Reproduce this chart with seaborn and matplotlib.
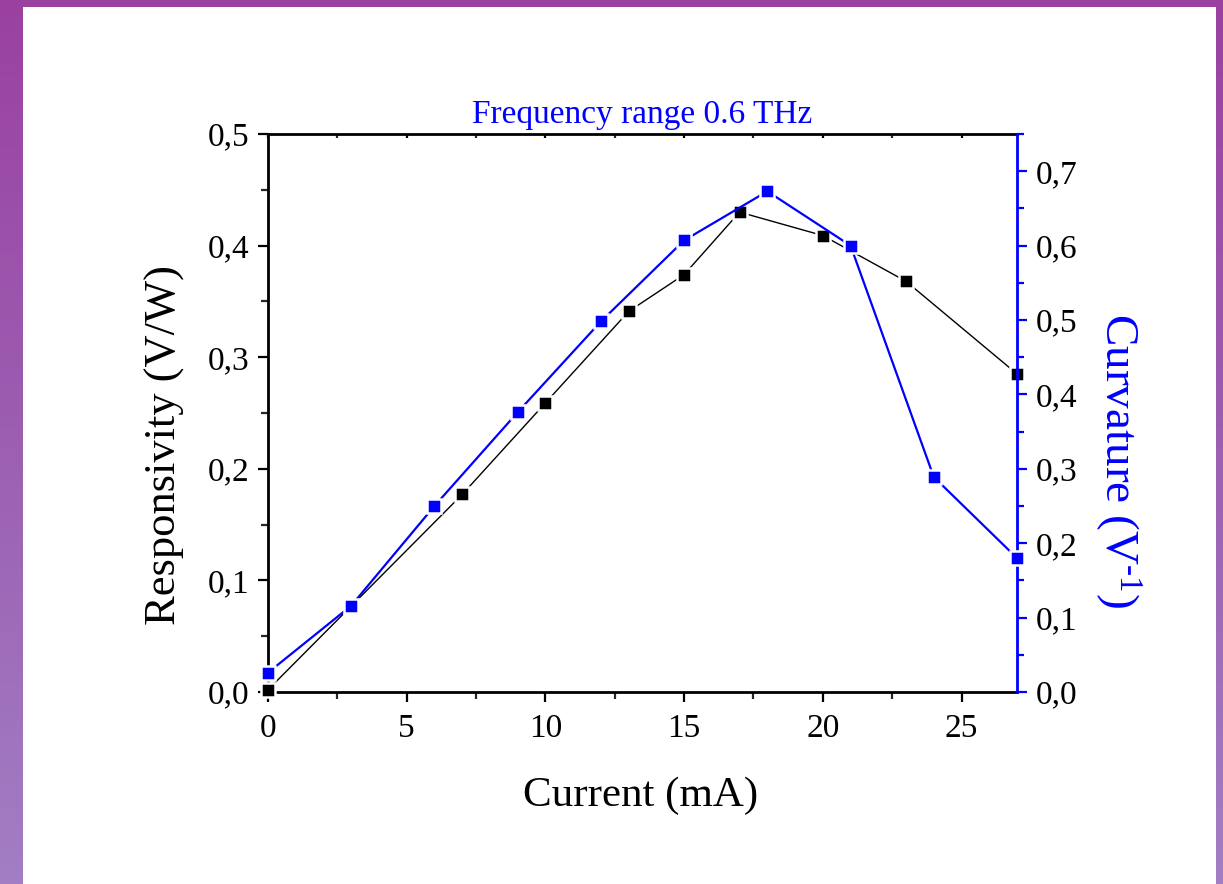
import numpy as np
import pandas as pd
import matplotlib
matplotlib.use("Agg")
import matplotlib.pyplot as plt
from matplotlib.patches import Rectangle
from matplotlib.ticker import MultipleLocator
from matplotlib.colors import LinearSegmentedColormap
import seaborn as sns

# ---- data ----
resp_current = [0, 3, 7, 10, 13, 15, 17, 20, 23, 27]
responsivity = [0.002, 0.077, 0.177, 0.259, 0.341, 0.374, 0.430, 0.409, 0.368, 0.285]
curv_current = [0, 3, 6, 9, 12, 15, 18, 21, 24, 27]
curvature = [0.026, 0.116, 0.250, 0.376, 0.498, 0.607, 0.673, 0.600, 0.289, 0.180]

x_ticks = [0, 5, 10, 15, 20, 25]
x_labels = ["0", "5", "10", "15", "20", "25"]
yl_ticks = [0.0, 0.1, 0.2, 0.3, 0.4, 0.5]
yl_labels = ["0,0", "0,1", "0,2", "0,3", "0,4", "0,5"]
yr_ticks = [0.0, 0.1, 0.2, 0.3, 0.4, 0.5, 0.6, 0.7]
yr_labels = ["0,0", "0,1", "0,2", "0,3", "0,4", "0,5", "0,6", "0,7"]

title = "Frequency range 0.6 THz"
xlabel = "Current (mA)"
ylabel_left = "Responsivity (V/W)"
ylabel_right = r"Curvature (V$^{\text{-1}}$)"

sns.set_theme(style="white")
plt.rcParams["font.family"] = ["Liberation Serif", "DejaVu Serif"]
plt.rcParams["mathtext.fontset"] = "custom"
plt.rcParams["mathtext.rm"] = "Liberation Serif"
plt.rcParams["mathtext.it"] = "Liberation Serif:italic"

W, H = 1223, 884
fig = plt.figure(figsize=(W / 100, H / 100), dpi=100)

# background purple gradient frame + white panel
bg = fig.add_axes([0, 0, 1, 1], zorder=-10)
grad = np.linspace(0, 1, 256).reshape(-1, 1)
cmap = LinearSegmentedColormap.from_list("pp", ["#9a41a0", "#9c5fb2", "#a27ec4"])
bg.imshow(grad, extent=[0, 1, 0, 1], aspect="auto", cmap=cmap, origin="upper")
bg.set_xlim(0, 1)
bg.set_ylim(0, 1)
bg.add_patch(Rectangle((23 / W, 0), (1216 - 23) / W, 1 - 7 / H, facecolor="white",
                       edgecolor="none", transform=bg.transAxes))
bg.axis("off")

ax = fig.add_axes([268 / W, 1 - 692 / H, (1017 - 268) / W, (692 - 134) / H])
ax.set_facecolor("none")
ax2 = ax.twinx()

df1 = pd.DataFrame({"x": resp_current, "y": responsivity})
df2 = pd.DataFrame({"x": curv_current, "y": curvature})

sns.lineplot(data=df1, x="x", y="y", ax=ax, color="black", linewidth=1.0,
             marker="s", markersize=10, markeredgecolor="white", markeredgewidth=1.8,
             zorder=3, clip_on=False)
sns.lineplot(data=df2, x="x", y="y", ax=ax2, color="#0000ff", linewidth=1.6,
             marker="s", markersize=10, markeredgecolor="white", markeredgewidth=1.8,
             zorder=3, clip_on=False)

ax.set_xlim(0, 27)
ax.set_ylim(0, 0.5)
ax2.set_ylim(0, 0.75)

ax.set_xticks(x_ticks)
ax.set_xticklabels(x_labels)
ax.set_yticks(yl_ticks)
ax.set_yticklabels(yl_labels)
ax2.set_yticks(yr_ticks)
ax2.set_yticklabels(yr_labels)
ax.xaxis.set_minor_locator(MultipleLocator(2.5))
ax.yaxis.set_minor_locator(MultipleLocator(0.05))
ax2.yaxis.set_minor_locator(MultipleLocator(0.05))

for s in ["left", "bottom", "top"]:
    ax.spines[s].set_visible(True)
    ax.spines[s].set_color("black")
    ax.spines[s].set_linewidth(2.0)
ax.spines["right"].set_visible(False)
for s in ["left", "bottom", "top"]:
    ax2.spines[s].set_visible(False)
ax2.spines["right"].set_visible(True)
ax2.spines["right"].set_color("#0000ff")
ax2.spines["right"].set_linewidth(2.0)

ax.tick_params(axis="both", which="major", direction="out", length=7.5, width=1.6,
               labelsize=24, colors="black", pad=6, bottom=True, left=True)
ax.tick_params(axis="x", which="major", pad=8)
ax.tick_params(axis="both", which="minor", direction="out", length=5, width=1.6,
               bottom=True, left=True)
ax.tick_params(axis="x", which="both", top=True)
for t in ax.xaxis.get_major_ticks() + ax.xaxis.get_minor_ticks():
    t.tick2line.set_markersize(3)
    t.tick2line.set_marker(3)
ax2.tick_params(axis="y", which="major", direction="out", length=7.5, width=1.6,
                labelsize=24, colors="#0000ff", labelcolor="black", pad=6, right=True)
ax2.tick_params(axis="y", which="minor", direction="out", length=5, width=1.6,
                colors="#0000ff", right=True)

ax.set_xlabel(xlabel, fontsize=31, color="black")
ax.xaxis.label.set_va("center")
ax.xaxis.set_label_coords((641 - 268) / 749, (692 - 796) / 558)

ax.set_ylabel(ylabel_left, fontsize=32, color="black")
ax.yaxis.label.set_va("center")
ax.yaxis.label.set_ha("center")
ax.yaxis.set_label_coords((165 - 268) / 749, (692 - 445) / 558)

ax2.set_ylabel(ylabel_right, fontsize=34, color="#0000ff", rotation=270)
ax2.yaxis.label.set_va("center")
ax2.yaxis.label.set_ha("center")
ax2.yaxis.set_label_coords((1118 - 268) / 749, (692 - 461) / 558)

ax.set_title(title, fontsize=24, color="#0000ff", pad=8)

fig.savefig("out.png", dpi=100)
